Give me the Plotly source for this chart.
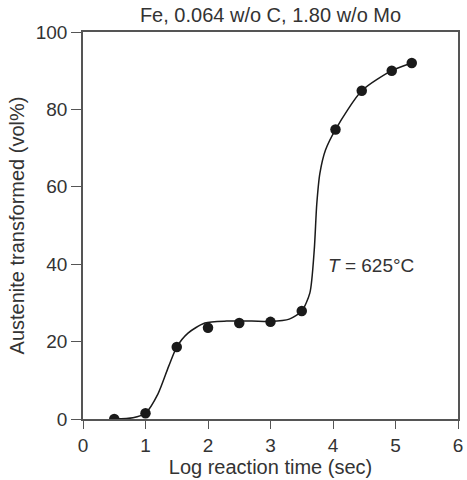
import plotly.graph_objects as go

# Measured data points
pt_x = [0.5, 1.0, 1.5, 2.0, 2.5, 3.0, 3.5, 4.04, 4.46, 4.94, 5.26]
pt_y = [0.0, 1.5, 18.6, 23.6, 24.8, 25.1, 27.9, 74.8, 84.8, 90.0, 92.0]

# Hand-drawn fitted curve (nodes)
curve_x = [0.5, 0.8, 1.0, 1.2, 1.37, 1.5, 1.68, 1.95, 2.3, 2.7, 3.0, 3.3, 3.5,
           3.63, 3.70, 3.74, 3.79, 3.88, 4.04, 4.46, 4.94, 5.26]
curve_y = [0.0, 0.3, 1.5, 6.5, 13.6, 18.6, 22.2, 24.8, 25.3, 25.3, 25.2, 25.8, 27.9,
           32.6, 43.7, 55.5, 63.5, 69.5, 74.8, 84.8, 90.0, 92.0]

x_ticks = [0, 1, 2, 3, 4, 5, 6]
y_ticks = [0, 20, 40, 60, 80, 100]

txt = "#333333"
axc = "#555555"
font = "Liberation Sans, Arial, sans-serif"
fs = 19
ft = 20

fig = go.Figure()
fig.add_trace(go.Scatter(x=curve_x, y=curve_y, mode="lines",
                         line=dict(color="#1a1a1a", width=1.5, shape="spline", smoothing=0.7),
                         hoverinfo="skip", showlegend=False))
fig.add_trace(go.Scatter(x=pt_x, y=pt_y, mode="markers",
                         marker=dict(color="#1a1a1a", size=10.5), showlegend=False))

fig.add_annotation(x=3.88, y=39.6, xref="x", yref="y", xanchor="left", yanchor="middle",
                   text="<i>T</i> = 625°C", showarrow=False,
                   font=dict(family=font, size=fs, color=txt))

fig.update_layout(
    width=467, height=480,
    margin=dict(l=83, r=4, t=32, b=61),
    paper_bgcolor="white", plot_bgcolor="white",
    font=dict(family=font, size=fs, color=txt),
    title=dict(text="Fe, 0.064 w/o C, 1.80 w/o Mo", x=0.5, xref="paper",
               y=1 - 15 / 480, yref="container", yanchor="middle",
               font=dict(family=font, size=ft, color=txt)),
)
fig.update_xaxes(range=[0, 6], tickvals=x_ticks, ticks="outside", ticklen=8,
                 tickcolor=axc, showline=True, linecolor=axc, linewidth=1.5, mirror=True,
                 showgrid=False, zeroline=False,
                 title=dict(text="Log reaction time (sec)", standoff=4,
                            font=dict(family=font, size=ft, color=txt)),
                 tickfont=dict(family=font, size=fs, color=txt))
fig.update_yaxes(range=[0, 100], tickvals=y_ticks, ticks="outside", ticklen=10,
                 tickcolor=axc, showline=True, linecolor=axc, linewidth=1.5, mirror=True,
                 showgrid=False, zeroline=False,
                 title=dict(text="Austenite transformed (vol%)", standoff=6,
                            font=dict(family=font, size=ft, color=txt)),
                 tickfont=dict(family=font, size=fs, color=txt))

fig.write_html("out.html")
